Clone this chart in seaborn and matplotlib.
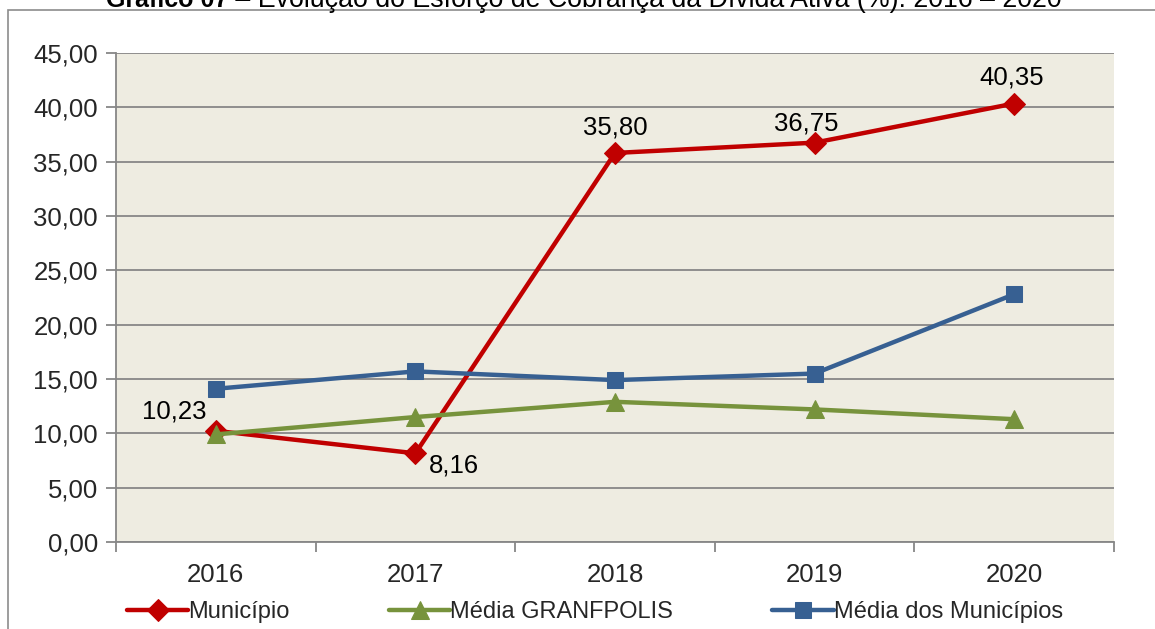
import numpy as np
import pandas as pd
import matplotlib
matplotlib.use("Agg")
import matplotlib.pyplot as plt
import seaborn as sns
from matplotlib.patches import Rectangle
from matplotlib.ticker import FuncFormatter

# ============================================================
#  DATA
# ============================================================

anos = ["2016", "2017", "2018", "2019", "2020"]
municipio = [10.23, 8.16, 35.80, 36.75, 40.35]
media_granfpolis = [9.9, 11.5, 12.9, 12.2, 11.3]
media_municipios = [14.1, 15.7, 14.9, 15.5, 22.8]
rotulos_municipio = ["10,23", "8,16", "35,80", "36,75", "40,35"]

titulo_bold = "Gráfico 07"
titulo_resto = " – Evolução do Esforço de Cobrança da Dívida Ativa (%): 2016 – 2020"

sns.set_style("white")
plt.rcParams['font.family'] = ['Liberation Sans', 'DejaVu Sans']

pos = np.arange(len(anos))

fig = plt.figure(figsize=(11.55, 6.29), dpi=100)
ax = fig.add_axes([116 / 1155, 1 - 542 / 629, (1114 - 116) / 1155, (542 - 53) / 629])
ax.set_facecolor("#EEECE1")

# outer chart border
fig.patches.append(Rectangle((8 / 1155, -0.05), 1.2, 1 - 10 / 629 + 0.05,
                             transform=fig.transFigure, fill=False,
                             edgecolor="#8C8C8C", linewidth=1.2, zorder=0))

series = [
    ("Município", municipio, "#C00000", "D", 11),
    ("Média GRANFPOLIS", media_granfpolis, "#77933C", "^", 13),
    ("Média dos Municípios", media_municipios, "#376092", "s", 12),
]
for nome, vals, cor, mk, ms in series:
    sns.lineplot(x=pos, y=vals, ax=ax, color=cor, linewidth=3.2, marker=mk,
                 markersize=ms, markeredgecolor=cor, label=nome, zorder=3)

# data labels (Município)
offsets = [(-30, 14), (28, -9), (0, 18), (-6, 14), (-2, 19)]
for i, (v, t) in enumerate(zip(municipio, rotulos_municipio)):
    ax.annotate(t, (pos[i], v), xytext=offsets[i], textcoords="offset points",
                ha="center", va="center", fontsize=18.5, color="black")

ax.set_xlim(-0.5, len(anos) - 0.5)
ax.set_ylim(0, 45)
ax.set_yticks(np.arange(0, 46, 5))
ax.yaxis.set_major_formatter(FuncFormatter(lambda v, p: f"{v:.2f}".replace(".", ",")))
ax.set_xticks(pos)
ax.set_xticklabels(anos)
ax.set_xticks(np.arange(-0.5, len(anos), 1), minor=True)
ax.grid(axis="y", color="#878787", linewidth=1.3, zorder=1)
ax.set_axisbelow(True)

for s in ["top", "right"]:
    ax.spines[s].set_visible(False)
for s in ["left", "bottom"]:
    ax.spines[s].set_color("#878787")
    ax.spines[s].set_linewidth(1.3)

ax.tick_params(axis="y", which="major", length=7, width=1.3, color="#878787",
               labelsize=18.5, pad=6, left=True)
ax.tick_params(axis="x", which="major", length=0, labelsize=18.5, pad=15)
ax.tick_params(axis="x", which="minor", length=7, width=1.3, color="#878787", bottom=True)
ax.set_xlabel("")
ax.set_ylabel("")

ax.get_legend().remove()
handles, labels = ax.get_legend_handles_labels()
fig.legend(handles, labels, loc="center", bbox_to_anchor=(0.515, 1 - 612 / 629), ncol=3,
           frameon=False, fontsize=17, handlelength=2.6, handletextpad=0.0,
           columnspacing=4.2, borderpad=0)

fig.text(228 / 1155, 1.0, titulo_bold, ha="right", va="center", fontsize=18,
         fontweight="bold", color="black")
fig.text(228 / 1155, 1.0, titulo_resto, ha="left", va="center", fontsize=19.3, color="black")

fig.savefig("out.png", dpi=100)
